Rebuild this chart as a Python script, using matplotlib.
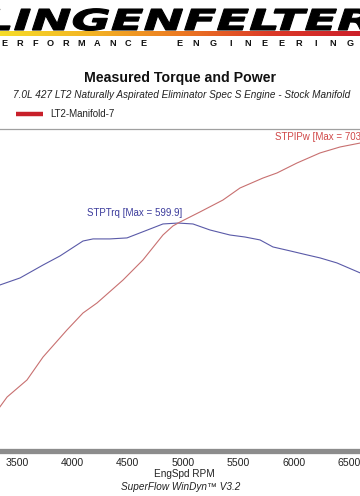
import numpy as np
import matplotlib
matplotlib.use("Agg")
import matplotlib.pyplot as plt
from matplotlib.textpath import TextPath
from matplotlib.patches import PathPatch
from matplotlib.font_manager import FontProperties
from matplotlib.colors import LinearSegmentedColormap
from matplotlib.transforms import Affine2D

plt.rcParams['font.family'] = ['Liberation Sans', 'DejaVu Sans']

# torque curve (lb-ft)
trq_rpm = [3340, 3527, 3735, 3888, 4096, 4187, 4340, 4494, 4656, 4819, 4955,
           5090, 5244, 5424, 5560, 5696, 5813, 5967, 6120, 6238, 6391, 6610]
trq = [531.8, 539.7, 553.9, 563.8, 580.2, 582.5, 582.5, 583.6, 591.2, 598.9, 599.9,
       598.9, 592.3, 586.8, 584.6, 581.4, 573.7, 569.4, 565.0, 561.7, 556.2, 544.8]

# power curve (hp)
pwr_rpm = [3340, 3410, 3590, 3735, 3951, 4096, 4223, 4458, 4638, 4819, 4909,
           4973, 5153, 5361, 5515, 5723, 5849, 6030, 6238, 6419, 6610]
pwr = [339.5, 354.1, 377.5, 409.0, 446.1, 469.4, 483.2, 514.7, 542.2, 576.5, 588.9,
       594.3, 608.1, 624.5, 641.0, 654.7, 661.6, 675.3, 689.1, 697.3, 703.0]

xticks = [3500, 4000, 4500, 5000, 5500, 6000, 6500]

W, H = 360, 496
fig = plt.figure(figsize=(W / 100, H / 100), dpi=100)

def fx(px):
    return px / W

def fy(py):
    return 1 - py / H

# logo layer, pixel coordinates
lay = fig.add_axes([0, 0, 1, 1])
lay.set_xlim(0, W)
lay.set_ylim(H, 0)
lay.axis("off")

fp = FontProperties(family="DejaVu Sans", weight="bold", style="oblique")
tp = TextPath((0, 0), "LINGENFELTER", size=1, prop=fp)
ext = tp.get_extents()
sx = 386 / ext.width
sy = 21 / 0.73
tr = Affine2D().translate(-ext.x0, 0).scale(sx, -sy).translate(-16, 30) + lay.transData
lay.add_patch(PathPatch(tp, transform=tr, facecolor="black", edgecolor="black", lw=0.8))

grad = LinearSegmentedColormap.from_list(
    "streak", ["#f6dc2a", "#f3b424", "#ec7a22", "#dc3a28", "#cc1f2a"])
lay.imshow(np.linspace(0, 1, 256)[None, :], cmap=grad, aspect="auto",
           extent=[0, W, 36.5, 32], zorder=1)

word1 = "PERFORMANCE"
for i, ch in enumerate(word1):
    lay.text(-11.5 + i * 15.5, 43.5, ch, ha="center", va="center",
             fontsize=6.6, fontweight="bold", color="#111111")
word2 = "ENGINEERING"
for i, ch in enumerate(word2):
    lay.text(179 + i * 17.1, 43.5, ch, ha="center", va="center",
             fontsize=6.6, fontweight="bold", color="#111111")

# titles and legend
fig.text(fx(180), fy(78), "Measured Torque and Power", ha="center", va="center",
         fontsize=10.2, fontweight="bold", color="#111111")
fig.text(fx(182), fy(95), "7.0L 427 LT2 Naturally Aspirated Eliminator Spec S Engine - Stock Manifold",
         ha="center", va="center", fontsize=7.2, style="italic", color="#222222")
lay.plot([16, 43], [114, 114], color="#c8202a", lw=3.2, solid_capstyle="butt")
fig.text(fx(50), fy(114), "LT2-Manifold-7", ha="left", va="center",
         fontsize=7.0, color="#222222")

# chart
top_px, bot_px = 129, 451
ax = fig.add_axes([0, fy(bot_px), 1, (bot_px - top_px) / H])
ax2 = ax.twinx()

ax.plot(trq_rpm, trq, color="#5a5aa8", lw=0.8)
ax2.plot(pwr_rpm, pwr, color="#c87070", lw=0.8)

ax.set_xlim(3346, 6600)
ax.set_ylim(350, 703)
ax2.set_ylim(280, 722)

ax.text(4132, 611, "STPTrq [Max = 599.9]", color="#3c3c9c", fontsize=7.0,
        ha="left", va="center")
ax2.text(5831, 711, "STPIPw [Max = 703.4]", color="#d04848", fontsize=7.0,
         ha="left", va="center", clip_on=False)

for a in (ax, ax2):
    for s in ("left", "right"):
        a.spines[s].set_visible(False)
    a.spines["top"].set_color("#a0a0a0")
    a.spines["top"].set_linewidth(0.9)
    a.spines["bottom"].set_color("#8c8c8c")
    a.spines["bottom"].set_linewidth(3.8)
    a.set_yticks([])
ax2.spines["bottom"].set_visible(False)
ax2.spines["top"].set_visible(False)

ax.set_xticks(xticks)
ax.set_xticklabels([str(t) for t in xticks])
ax.tick_params(axis="x", length=0, pad=5, labelsize=7.6, labelcolor="#222222")

fig.text(fx(184), fy(474), "EngSpd RPM", ha="center", va="center",
         fontsize=7.2, color="#222222")
fig.text(fx(181), fy(487), "SuperFlow WinDyn\u2122 V3.2", ha="center", va="center",
         fontsize=7.2, style="italic", color="#222222")

fig.savefig("out.png", dpi=100)
